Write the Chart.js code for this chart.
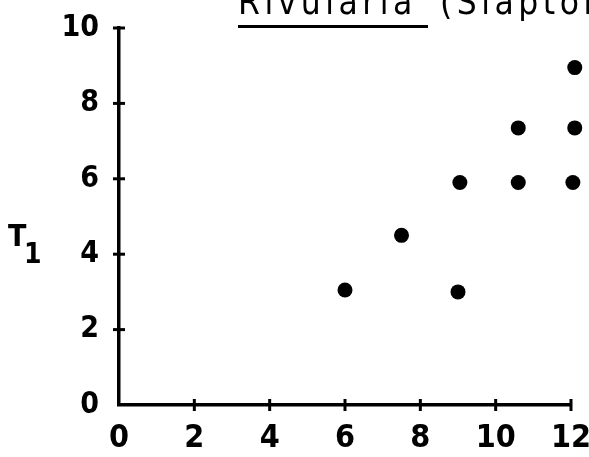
<!DOCTYPE html>
<html>
<head>
<meta charset="utf-8">
<script src="https://cdn.jsdelivr.net/npm/chart.js@4"></script>
<style>
  body { margin: 0; background: #fff; }
  #wrap { width: 589px; height: 457px; }
</style>
</head>
<body>
<div id="wrap"><canvas id="myChart"></canvas></div>
<script>
const xValues = [6, 7.5, 9.05, 9.0, 10.6, 10.6, 12.05, 12.1, 12.1];
const yValues = [3.05, 4.5, 5.9, 3.0, 5.9, 7.35, 5.9, 7.35, 8.95];
const xTicks = [0, 2, 4, 6, 8, 10, 12];
const yTicks = [0, 2, 4, 6, 8, 10];

const points = xValues.map((x, i) => ({ x: x, y: yValues[i] }));

// cross ticks on both axes + title and T1 label
const decor = {
  id: 'decor',
  afterDraw(chart) {
    const c = chart.ctx;
    const xs = chart.scales.x, ys = chart.scales.y;
    c.save();
    c.strokeStyle = '#000';
    c.lineWidth = 3;
    xTicks.forEach(v => {
      const px = xs.getPixelForValue(v);
      if (v === 0) return;
      c.beginPath();
      c.moveTo(px, xs.top - 6);
      c.lineTo(px, xs.top + 6);
      c.stroke();
    });
    yTicks.forEach(v => {
      const py = ys.getPixelForValue(v);
      if (v === 0) return;
      c.beginPath();
      c.moveTo(ys.right - 6, py);
      c.lineTo(ys.right + 6, py);
      c.stroke();
    });

    c.fillStyle = '#000';
    c.textBaseline = 'alphabetic';
    c.font = 'bold 30px "DejaVu Sans Condensed", "DejaVu Sans"';
    c.fillText('T', 8, 246);
    c.font = 'bold 28px "DejaVu Sans Condensed", "DejaVu Sans"';
    c.fillText('1', 24, 263);

    c.font = '35px "DejaVu Sans Condensed", "DejaVu Sans"';
    c.letterSpacing = '4.5px';
    c.fillText('Rivularia', 238, 14);
    c.fillText('(Slapton Ley)', 440, 14);
    c.fillRect(238, 25, 190, 3);
    c.restore();
  }
};

new Chart(document.getElementById('myChart'), {
  type: 'scatter',
  data: {
    datasets: [{
      data: points,
      backgroundColor: '#000',
      borderWidth: 0,
      pointRadius: 7.5,
      pointHoverRadius: 7.5,
      clip: false
    }]
  },
  options: {
    responsive: true,
    maintainAspectRatio: false,
    animation: false,
    layout: { padding: { top: 28, right: 18, left: 0, bottom: 0 } },
    plugins: { legend: { display: false }, tooltip: { enabled: false } },
    scales: {
      x: {
        type: 'linear',
        min: 0,
        max: 12,
        afterFit: s => { s.height = 52; s.paddingLeft = 0; s.paddingRight = 0; },
        afterBuildTicks: s => { s.ticks = xTicks.map(v => ({ value: v })); },
        grid: { display: false },
        border: { display: true, color: '#000', width: 3.5 },
        ticks: {
          color: '#000',
          padding: 6,
          font: { family: '"DejaVu Sans Condensed", "DejaVu Sans"', size: 32, weight: 'bold' }
        }
      },
      y: {
        type: 'linear',
        min: 0,
        max: 10,
        afterFit: s => { s.width = 119; s.paddingTop = 0; s.paddingBottom = 0; },
        afterBuildTicks: s => { s.ticks = yTicks.map(v => ({ value: v })); },
        grid: { display: false },
        border: { display: true, color: '#000', width: 3.5 },
        ticks: {
          color: '#000',
          padding: 12,
          font: { family: '"DejaVu Sans Condensed", "DejaVu Sans"', size: 30, weight: 'bold' }
        }
      }
    }
  },
  plugins: [decor]
});
</script>
</body>
</html>
